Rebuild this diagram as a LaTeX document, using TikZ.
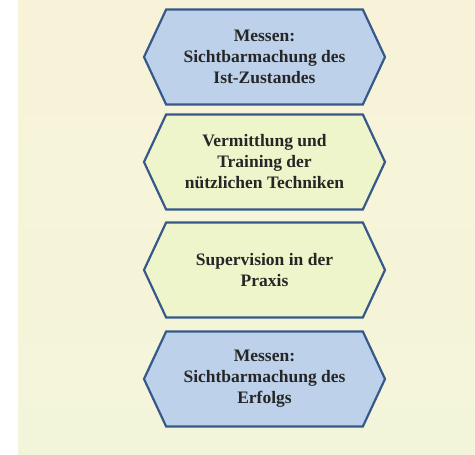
\documentclass[tikz,border=0pt]{standalone}
\usepackage{fontspec}
\setmainfont{Liberation Serif}
\usepackage{tikz}
\usetikzlibrary{shapes.symbols}

\definecolor{edgeblue}{HTML}{36598A}
\definecolor{fillblue}{HTML}{BDD2EA}
\definecolor{fillgreen}{HTML}{EEF5CA}
\definecolor{papertop}{HTML}{F8F3D8}
\definecolor{paperbot}{HTML}{F3F5DA}

\begin{document}
\begin{tikzpicture}[x=1pt,y=1pt,
        hexa/.style={
            signal,
            signal to=west and east,
            signal pointer angle=130,
            draw=edgeblue,
            line width=2.2pt,
            minimum width=241pt,
            minimum height=95pt,
            inner sep=0pt,
            align=center,
            text=black!85,
            font=\bfseries\fontsize{17.5}{21}\selectfont}]
        \useasboundingbox (0,0) rectangle (475,455);
        \fill[white] (0,0) rectangle (18,455);
        \shade[top color=papertop, bottom color=paperbot] (18,0) rectangle (475,455);
        \node[hexa, fill=fillblue] (mess1) at (264.5,398) {Messen:\\Sichtbarmachung des\\Ist-Zustandes};
        \node[hexa, fill=fillgreen] (train) at (264.5,293) {Vermittlung und\\Training der\\nützlichen Techniken};
        \node[hexa, fill=fillgreen] (sup) at (264.5,185) {Supervision in der\\Praxis};
        \node[hexa, fill=fillblue] (mess2) at (264.5,76) {Messen:\\Sichtbarmachung des\\Erfolgs};
    \end{tikzpicture}
\end{document}
